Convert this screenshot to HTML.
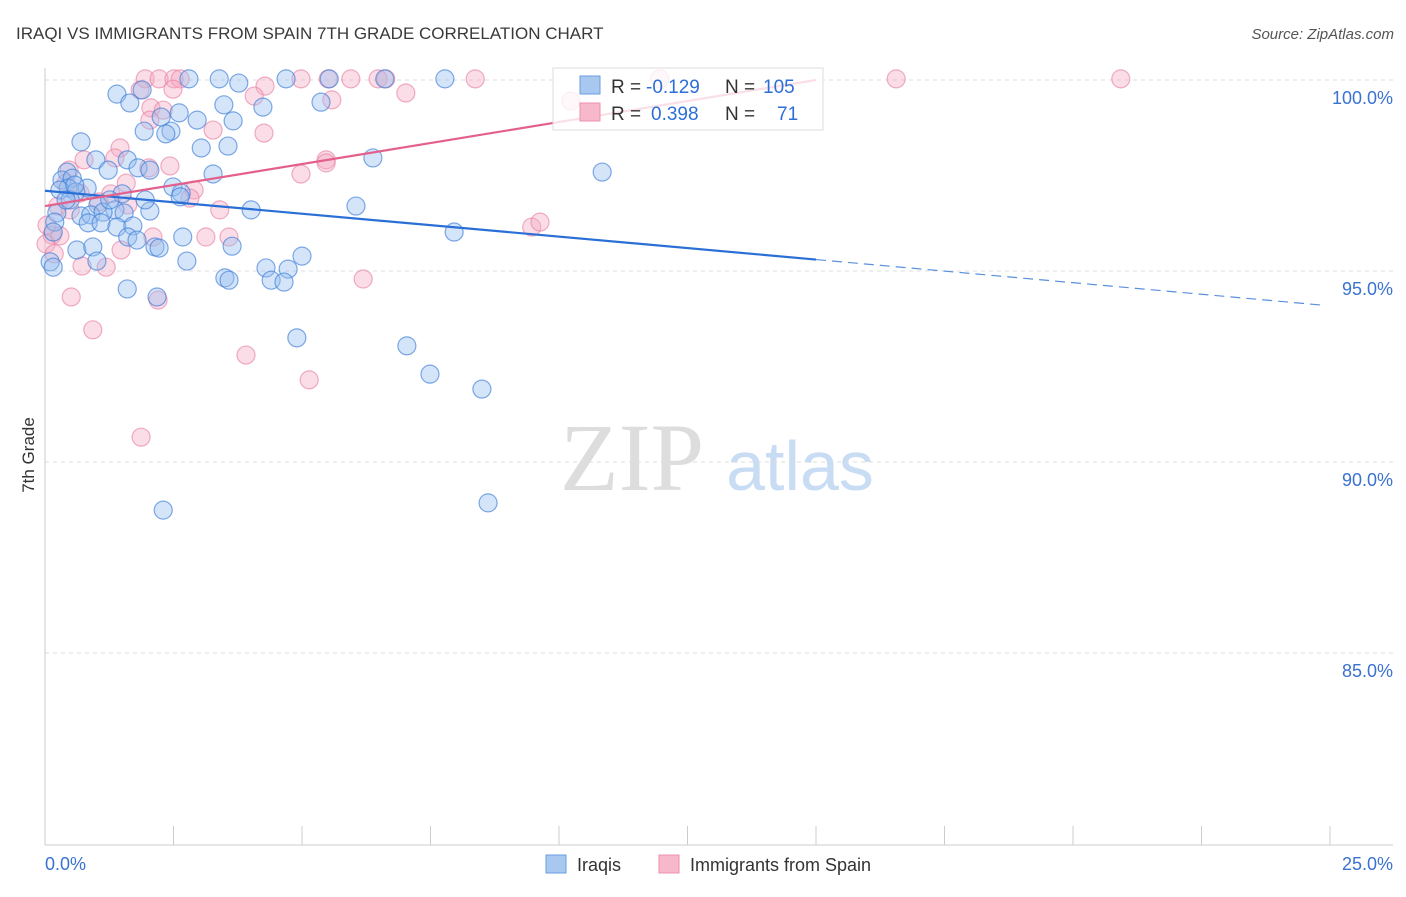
<!DOCTYPE html>
<html><head><meta charset="utf-8"><style>
body{margin:0;background:#fff;font-family:"Liberation Sans",sans-serif}
</style></head><body>
<svg id="chart" width="1406" height="892" viewBox="0 0 1406 892" xmlns="http://www.w3.org/2000/svg">
<text x="16" y="39" font-size="17" fill="#3a3a3a">IRAQI VS IMMIGRANTS FROM SPAIN 7TH GRADE CORRELATION CHART</text>
<text x="1394" y="39" font-size="15" fill="#555" text-anchor="end" font-style="italic">Source: ZipAtlas.com</text>
<g>
<text x="632" y="490" font-size="96" fill="#ddd" font-family="Liberation Serif" text-anchor="middle">ZIP</text>
<text x="800" y="490" font-size="70" fill="#c8dcf4" text-anchor="middle">atlas</text>
</g>
<g id="grid"></g>
<g id="axes"></g>
<g id="pts"></g>
<g id="trend"></g>
<text transform="translate(34,455) rotate(-90)" font-size="17" fill="#333" text-anchor="middle">7th Grade</text>
<g>
<rect x="553" y="68" width="270" height="62" fill="#fff" fill-opacity="0.8" stroke="#ddd"/>
<rect x="580" y="76" width="20" height="18" fill="#a8c8f0" stroke="#6a9ee0"/>
<rect x="580" y="103" width="20" height="18" fill="#f8b8cc" stroke="#ec90ac"/>
<text x="611" y="93" font-size="19" fill="#333">R =</text>
<text x="646" y="93" font-size="19" fill="#2d6fd6">-0.129</text>
<text x="725" y="93" font-size="19" fill="#333">N =</text>
<text x="763" y="93" font-size="19" fill="#2d6fd6">105</text>
<text x="611" y="120" font-size="19" fill="#333">R =</text>
<text x="651" y="120" font-size="19" fill="#2d6fd6">0.398</text>
<text x="725" y="120" font-size="19" fill="#333">N =</text>
<text x="777" y="120" font-size="19" fill="#2d6fd6">71</text>
</g>
<g>
<rect x="546" y="855" width="20" height="18" fill="#a8c8f0" stroke="#6a9ee0"/>
<text x="577" y="871" font-size="18" fill="#333">Iraqis</text>
<rect x="659" y="855" width="20" height="18" fill="#f8b8cc" stroke="#ec90ac"/>
<text x="690" y="871" font-size="18" fill="#333">Immigrants from Spain</text>
</g>
</svg>
<script>
const yTicks=[100,95,90,85];
const yTickLabels=["100.0%","95.0%","90.0%","85.0%"];
const xTickLabels=["0.0%","25.0%"];
const bluePx=[[117,94],[142,90],[130,103],[161,117],[144,131],[171,131],[166,134],[179,113],[197,120],[189,79],[219,79],[239,83],[224,105],[233,121],[263,107],[286,79],[329,79],[321,102],[385,79],[445,79],[81,142],[201,148],[228,146],[96,160],[127,160],[108,170],[138,168],[150,170],[67,172],[62,180],[72,178],[68,188],[87,188],[60,190],[76,192],[122,194],[173,187],[181,193],[213,174],[180,197],[98,205],[115,210],[150,211],[57,213],[81,216],[91,215],[103,212],[124,213],[88,223],[101,223],[117,227],[133,226],[55,222],[53,232],[77,250],[93,247],[128,237],[137,240],[155,247],[159,248],[183,237],[232,246],[251,210],[187,261],[97,261],[50,262],[53,267],[225,278],[229,280],[266,268],[288,269],[271,280],[284,282],[302,256],[356,206],[373,158],[454,232],[602,172],[127,289],[157,297],[297,338],[407,346],[430,374],[482,389],[163,510],[488,503],[70,200],[110,200],[145,200],[75,185],[66,200]];
const pinkPx=[[145,79],[159,79],[174,79],[180,79],[301,79],[328,79],[351,79],[378,79],[386,79],[475,79],[660,79],[896,79],[1121,79],[140,90],[173,89],[265,86],[254,96],[151,108],[163,110],[332,100],[406,93],[571,101],[150,120],[264,133],[213,130],[120,148],[115,158],[170,166],[149,168],[69,170],[84,160],[301,174],[326,160],[326,163],[66,183],[126,183],[194,190],[111,194],[80,193],[99,202],[190,198],[58,206],[52,235],[46,244],[54,254],[60,236],[121,250],[153,237],[206,237],[229,237],[82,266],[106,267],[71,297],[158,300],[363,279],[93,330],[246,355],[309,380],[141,437],[532,227],[540,222],[70,210],[128,205],[220,210],[47,225]];
const blueX=bluePx.map(p=>+((p[0]-45)/1285*25).toFixed(2));
const blueY=bluePx.map(p=>+(100-(p[1]-80)/38.2).toFixed(2));
const pinkX=pinkPx.map(p=>+((p[0]-45)/1285*25).toFixed(2));
const pinkY=pinkPx.map(p=>+(100-(p[1]-80)/38.2).toFixed(2));
const blueTrend=[97.1,95.3,94.1];const pinkTrend=[96.7,100.0];
const X=v=>45+v/25*1285, Y=v=>80+(100-v)*38.2;
const ns="http://www.w3.org/2000/svg";
function mk(t,a,p){const e=document.createElementNS(ns,t);for(const k in a)e.setAttribute(k,a[k]);p.appendChild(e);return e;}
const g=document.getElementById('grid');
yTicks.forEach((t,i)=>{
 const l=mk('line',{x1:45,x2:1393,y1:Y(t),y2:Y(t),stroke:'#ddd','stroke-dasharray':'4,4'},g);
 
 
 const tx=mk('text',{x:1393,y:Y(t)+24,'font-size':18,fill:'#3a72d0','text-anchor':'end'},g);
 tx.textContent=yTickLabels[i];
 
 
});
const ax=document.getElementById('axes');
mk('line',{x1:45,x2:45,y1:68,y2:845,stroke:'#ccc'},ax);
mk('line',{x1:45,x2:1393,y1:845,y2:845,stroke:'#ccc'},ax);
for(let i=1;i<=10;i++){mk('line',{x1:X(i*2.5),x2:X(i*2.5),y1:826,y2:845,stroke:'#ccc'},ax);}
const x0=mk('text',{x:45,y:870,'font-size':18,fill:'#3a72d0'},ax);x0.textContent=xTickLabels[0];


const x1=mk('text',{x:1393,y:870,'font-size':18,fill:'#3a72d0','text-anchor':'end'},ax);x1.textContent=xTickLabels[1];


const P=document.getElementById('pts');
pinkX.forEach((x,i)=>{const c=mk('circle',{cx:X(x),cy:Y(pinkY[i]),r:9,fill:'rgba(245,170,195,0.4)',stroke:'rgba(232,130,165,0.65)','stroke-width':1.2},P);

});
blueX.forEach((x,i)=>{const c=mk('circle',{cx:X(x),cy:Y(blueY[i]),r:9,fill:'rgba(150,190,240,0.4)',stroke:'rgba(60,125,215,0.65)','stroke-width':1.2},P);

});
const T=document.getElementById('trend');
const b1=mk('line',{x1:X(0),y1:Y(blueTrend[0]),x2:X(15),y2:Y(blueTrend[1]),stroke:'#2a6fd6','stroke-width':2.2},T);


const b2=mk('line',{x1:X(15),y1:Y(blueTrend[1]),x2:X(24.9),y2:Y(blueTrend[2]),stroke:'#5a90dd','stroke-width':1.2,'stroke-dasharray':'10,6'},T);


const p1=mk('line',{x1:X(0),y1:Y(pinkTrend[0]),x2:X(15),y2:Y(pinkTrend[1]),stroke:'#e4608c','stroke-width':2.2},T);


</script>
</body></html>
